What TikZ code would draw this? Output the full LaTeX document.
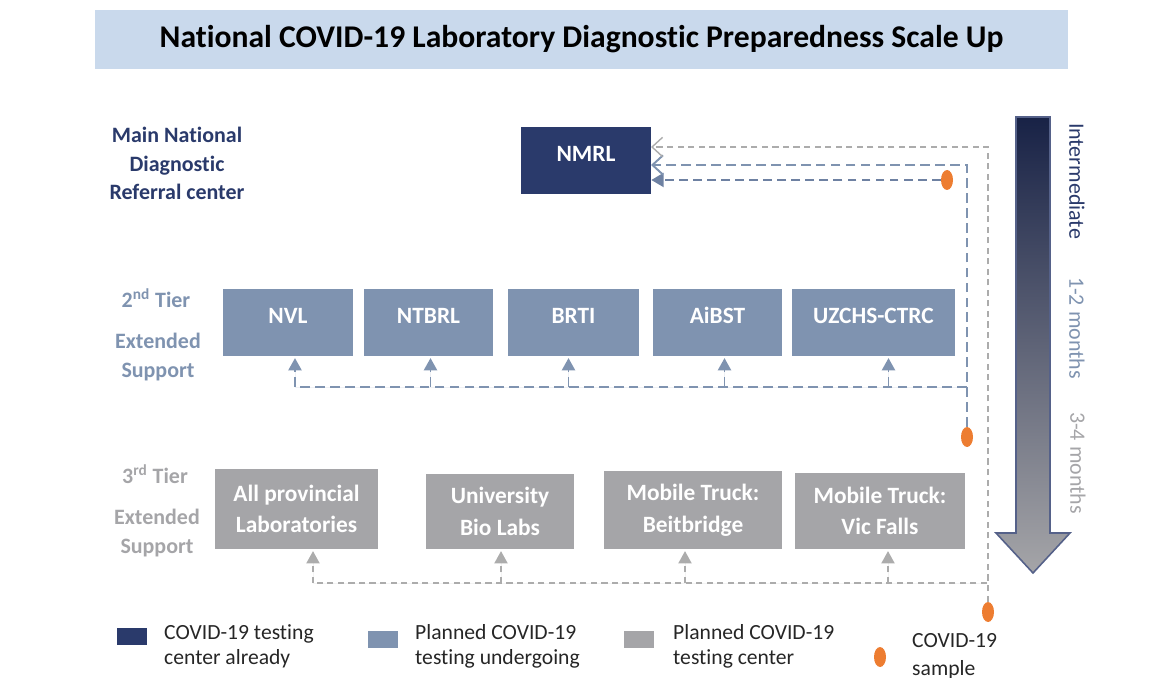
\documentclass[tikz,border=0pt]{standalone}
\usepackage{fontspec}
\setmainfont{Carlito}[Ligatures=NoCommon]
\usetikzlibrary{shapes}
\usetikzlibrary{arrows.meta}
\definecolor{bannerc}{RGB}{201,217,236}
\definecolor{navyc}{RGB}{42,58,107}
\definecolor{bluec}{RGB}{127,147,176}
\definecolor{grayc}{RGB}{165,165,168}
\definecolor{lgrayc}{RGB}{172,172,172}
\definecolor{orangec}{RGB}{237,125,49}
\definecolor{darkc}{RGB}{24,34,70}
\tikzset{
    banner/.style = {rectangle, draw=none, fill=bannerc, minimum width=19.46cm, minimum height=1.18cm, font=\fontsize{18}{21}\selectfont\bfseries},
    boxn/.style = {rectangle, draw=none, fill=navyc, text=white, minimum height=1.34cm, text depth=8pt, font=\fontsize{13.3}{18}\selectfont\bfseries},
    boxb/.style = {rectangle, draw=none, fill=bluec, text=white, minimum height=1.34cm, text depth=8pt, font=\fontsize{13.3}{18}\selectfont\bfseries},
    boxg/.style = {rectangle, draw=none, fill=grayc, text=white, align=center, font=\fontsize{13.3}{18}\selectfont\bfseries},
    tiern/.style = {align=center, text=navyc, font=\fontsize{12.5}{16.3}\selectfont\bfseries},
    tierb/.style = {align=center, text=bluec, font=\fontsize{12.5}{17}\selectfont\bfseries},
    tierg/.style = {align=center, text=grayc, font=\fontsize{12.5}{16}\selectfont\bfseries},
    timen/.style = {rotate=-90, font=\fontsize{12.5}{15}\selectfont},
    sample/.style = {ellipse, draw=none, fill=orangec, minimum width=0.24cm, minimum height=0.4cm, inner sep=0pt},
    keybox/.style = {rectangle, draw=none, minimum width=0.6cm, minimum height=0.34cm, inner sep=0pt},
    keytxt/.style = {anchor=west, align=left, text=black!85, font=\fontsize{12.3}{14.3}\selectfont},
    edgen/.style = {-{Triangle[length=7pt,width=8pt]}, draw=bluec!80!navyc, line width=1pt, dash pattern=on 5pt off 3pt},
    edgeb/.style = {-{Straight Barb[length=6pt,width=11pt]}, draw=bluec, line width=1.1pt, dash pattern=on 5.5pt off 3pt},
    edgeg/.style = {-{Straight Barb[length=6pt,width=11pt]}, draw=lgrayc, line width=0.8pt, dash pattern=on 3.5pt off 2.5pt},
    busb/.style = {-{Triangle[length=7pt,width=7.5pt]}, draw=bluec, fill=bluec, line width=1.1pt, dash pattern=on 5.5pt off 3pt},
    busg/.style = {-{Triangle[length=7pt,width=7.5pt]}, draw=lgrayc, fill=grayc, line width=0.8pt, dash pattern=on 3.5pt off 2.5pt}
}
\begin{document}
\begin{tikzpicture}[x=0.02cm,y=-0.02cm]
\useasboundingbox (0,0) rectangle (1165,678);
%
\node[banner] at (581.5,39.5) (title) {National COVID-19 Laboratory Diagnostic Preparedness Scale Up};
%
\node[tiern] at (177,163.5) (lmain) {Main National\\Diagnostic\\Referral center};
\node[tierb] at (156,298) (ltwo) {2\textsuperscript{nd} Tier};
\node[tierb] at (158,357) (lsupb) {Extended\\Support};
\node[tierg] at (155,474) (lthree) {3\textsuperscript{rd} Tier};
\node[tierg] at (157,533) (lsupg) {Extended\\Support};
%
\node[boxn, minimum width=2.6cm] at (586,160.5) (nmrl) {NMRL};
\node[boxb, minimum width=2.6cm] at (288,322.5) (nvl) {NVL};
\node[boxb, minimum width=2.58cm] at (428.5,322.5) (ntbrl) {NTBRL};
\node[boxb, minimum width=2.62cm] at (573.5,322.5) (brti) {BRTI};
\node[boxb, minimum width=2.58cm] at (717.5,322.5) (aibst) {AiBST};
\node[boxb, minimum width=3.26cm] at (873.5,322.5) (uzchs) {UZCHS-CTRC};
%
\node[boxg, minimum width=3.26cm, minimum height=1.6cm] at (296.5,509) (prov) {All provincial\\Laboratories};
\node[boxg, minimum width=2.96cm, minimum height=1.5cm] at (500,511.5) (univ) {University\\Bio Labs};
\node[boxg, minimum width=3.56cm, minimum height=1.56cm] at (693,510) (beit) {Mobile Truck:\\Beitbridge};
\node[boxg, minimum width=3.4cm, minimum height=1.52cm] at (880,511) (vic) {Mobile Truck:\\Vic Falls};
%
\node[sample] at (947,180) (sa) {};
\node[sample] at (967,437) (sb) {};
\node[sample] at (988,612) (sc) {};
\coordinate (nb) at (651,165);
\coordinate (ng) at (651,147);
\coordinate (bb) at (967,387);
\coordinate (bg) at (987,583);
%
\draw[edgen] (sa.west) -- (sa.west -| nmrl.east);
\draw[edgeb] (sb.north) |- (nb);
\draw[edgeg] (sc.north) |- (ng);
%
\draw[busb,-] (bb) -- ([xshift=0.14cm]nvl.south |- bb);
\foreach \n/\s in {nvl/0.14, ntbrl/0.04, brti/-0.1, aibst/0.14, uzchs/0.3}
  \draw[busb] ([xshift=\s cm]\n.south |- bb) -- ([xshift=\s cm, yshift=-1pt]\n.south);
\draw[busg,-] (bg) -- ([xshift=0.33cm]prov.south |- bg);
\foreach \n/\s in {prov/0.33, univ/0.02, beit/-0.16, vic/0.16}
  \draw[busg] ([xshift=\s cm]\n.south |- bg) -- ([xshift=\s cm, yshift=-1pt]\n.south);
%
\shadedraw[top color=darkc, middle color=bluec!90!navyc, bottom color=grayc, draw=navyc!80, line width=0.9pt]
  (1016,117) -- (1050,117) -- (1050,533) -- (1070,533) -- (1033,573) -- (996,533) -- (1016,533) -- cycle;
\node[timen, text=navyc] at (1077,181) (tint) {Intermediate};
\node[timen, text=bluec] at (1077,328) (tone) {1-2 months};
\node[timen, text=grayc] at (1078,463) (ttwo) {3-4 months};
%
\node[keybox, fill=navyc] at (132,636.5) (kn) {};
\node[keytxt] at (158,646.5) (tn) {COVID-19 testing\\center already};
\node[keybox, fill=bluec] at (383,639) (kb) {};
\node[keytxt] at (409,646.5) (tb) {Planned COVID-19\\testing undergoing};
\node[keybox, fill=grayc] at (638.5,639) (kg) {};
\node[keytxt] at (667,646.5) (tg) {Planned COVID-19\\testing center};
\node[sample] at (880,657) (ko) {};
\node[keytxt] at (906,656) (to) {COVID-19\\[1.5pt]sample};
\end{tikzpicture}
\end{document}
